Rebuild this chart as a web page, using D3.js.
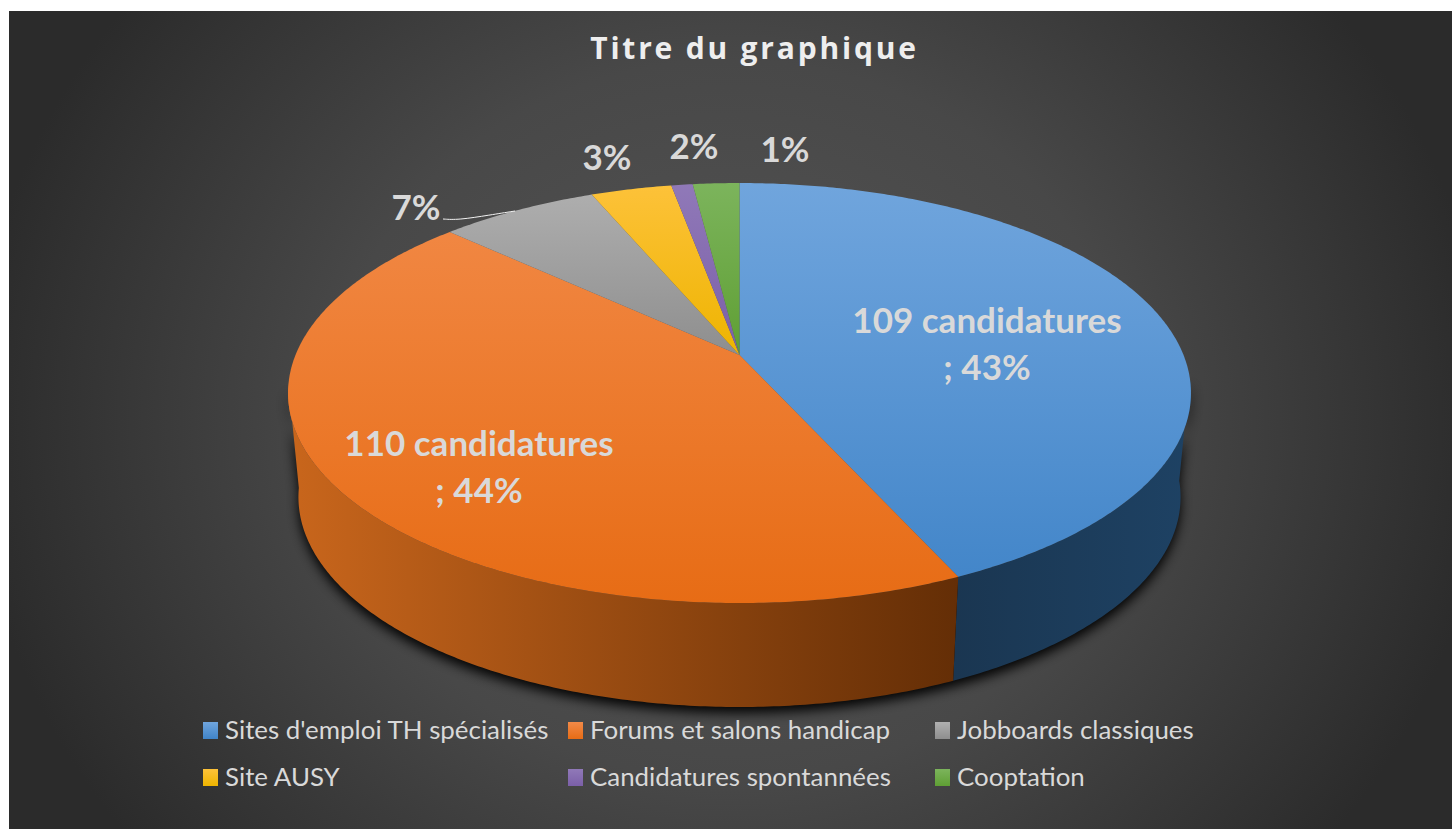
<!DOCTYPE html>
<html>
<head>
<meta charset="utf-8">
<script src="https://cdn.jsdelivr.net/npm/d3@7"></script>
<style>
  html, body { margin: 0; padding: 0; background: #fff; }
  svg { display: block; }
  text { font-family: Lato, "Open Sans", sans-serif; }
</style>
</head>
<body>
<svg id="chart" width="1452" height="829"></svg>
<script>
// Data
const categories = ["Sites d'emploi TH spécialisés", "Forums et salons handicap", "Jobboards classiques",
    "Site AUSY", "Candidatures spontannées", "Cooptation"];
const values = [109, 110, 17, 8.7, 2.3, 5];
const dataLabels = [["109 candidatures", "; 43%"], ["110 candidatures", "; 44%"], ["7%"], ["3%"], ["2%"], ["1%"]];
const titleText = "Titre du graphique";

// Colours: top of slice, bottom of slice, wall left, wall right
const TOP_LIGHT = ["#70a5dd", "#f28a48", "#b0b0b0", "#fdc23a", "#9079b8", "#7cb45c"];
const TOP_DARK = ["#4084c8", "#e76c15", "#8e8e8e", "#eeb400", "#7b5fa8", "#5f9f34"];
const WALL_LEFT = ["#1a3651", "#c9661c", "#555", "#8a6d00", "#4a3a66", "#3a6020"];
const WALL_RIGHT = ["#1e4264", "#642e06", "#555", "#8a6d00", "#4a3a66", "#3a6020"];

// Where the text goes
const LABEL_POS = [[987, 333], [479, 456], [416, 220], [607, 170], [694, 159], [785, 162]];
const LEGEND_X = [203, 568, 935];
const LEGEND_Y = [730, 777];

const WIDTH = 1452, HEIGHT = 829;
const DEPTH = 104;

const svg = d3.select("#chart");
const defs = svg.append("defs");

// Background
const bg = defs.append("radialGradient").attr("id", "bg")
    .attr("gradientUnits", "userSpaceOnUse")
    .attr("cx", 730).attr("cy", 420).attr("r", 800)
    .attr("gradientTransform", "translate(730 420) scale(1 0.9) translate(-730 -420)");
bg.append("stop").attr("offset", 0).attr("stop-color", "#555555");
bg.append("stop").attr("offset", 0.5).attr("stop-color", "#484848");
bg.append("stop").attr("offset", 0.95).attr("stop-color", "#2b2b2b");

svg.append("rect").attr("x", 9).attr("y", 11).attr("width", WIDTH - 9).attr("height", HEIGHT - 11)
    .attr("fill", "url(#bg)");

const blur = defs.append("filter").attr("id", "shadow")
    .attr("x", "-10%").attr("y", "-10%").attr("width", "120%").attr("height", "120%");
blur.append("feGaussianBlur").attr("stdDeviation", 6);

// Tilted disc: the pie's centre sits above the middle of the ellipse, so a plain ellipse won't do
const CX = 739.5, CY = 355;
const persp = 0.181, scaleX = 444, scaleY = 203.1;

function project(angle) {
    const u = Math.sin(angle), v = Math.cos(angle);
    const w = 1 + persp * v;
    return [CX + scaleX * u / w, CY - scaleY * v / w];
}
function projectBottom(angle) {
    const [x, y] = project(angle);
    return [CX + (x - CX) * 0.977, y + DEPTH];
}
function sampleAngles(a0, a1) {
    const n = Math.max(2, Math.ceil((a1 - a0) / 0.01));
    return d3.range(n + 1).map(i => a0 + (a1 - a0) * i / n);
}

const line = d3.line();
const pieGen = d3.pie().sort(null).value(d => d);
const arcs = pieGen(values);

// Visible part of the wall
const WALL_START = 96 * Math.PI / 180, WALL_END = 262 * Math.PI / 180;
const topEdge = sampleAngles(WALL_START, WALL_END);

// Shadow under the pie
svg.append("path")
    .attr("d", line(topEdge.map(a => projectBottom(a)).concat(topEdge.slice().reverse().map(a => project(a)))) + "Z")
    .attr("transform", "translate(0,6)")
    .attr("fill", "#000").attr("opacity", 0.95)
    .attr("filter", "url(#shadow)");

// Walls
arcs.forEach((d, i) => {
    const a0 = Math.max(d.startAngle, WALL_START), a1 = Math.min(d.endAngle, WALL_END);
    if (a1 <= a0) return;
    const angles = sampleAngles(a0, a1);
    const pts = angles.map(a => project(a)).concat(angles.slice().reverse().map(a => projectBottom(a)));
    const ext = d3.extent(pts, p => p[0]);
    const g = defs.append("linearGradient").attr("id", "wall" + i)
        .attr("gradientUnits", "userSpaceOnUse")
        .attr("x1", ext[0]).attr("x2", ext[1]).attr("y1", 0).attr("y2", 0);
    g.append("stop").attr("offset", 0).attr("stop-color", WALL_LEFT[i]);
    g.append("stop").attr("offset", 1).attr("stop-color", WALL_RIGHT[i]);
    svg.append("path").attr("d", line(pts) + "Z").attr("fill", `url(#wall${i})`);
});

// Top of the slices, one vertical gradient over the whole disc
arcs.forEach((d, i) => {
    const g = defs.append("linearGradient").attr("id", "top" + i)
        .attr("gradientUnits", "userSpaceOnUse")
        .attr("x1", 0).attr("x2", 0).attr("y1", 183).attr("y2", 603);
    g.append("stop").attr("offset", 0).attr("stop-color", TOP_LIGHT[i]);
    g.append("stop").attr("offset", 1).attr("stop-color", TOP_DARK[i]);
    const pts = [[CX, CY]].concat(sampleAngles(d.startAngle, d.endAngle).map(a => project(a)));
    svg.append("path").attr("d", line(pts) + "Z").attr("fill", `url(#top${i})`);
});

// Small slices get a gradient that ends at the apex, otherwise they stay too pale
[2, 3, 4, 5].forEach(i => {
    defs.select("#top" + i).attr("y2", CY);
});

// Leader line of the 7% label
svg.append("path")
    .attr("d", d3.line().curve(d3.curveBasis)([[443, 219], [458, 220], [490, 215], [515, 211]]))
    .attr("fill", "none").attr("stroke", "#f2f2f2").attr("stroke-width", 1);

// Data labels
dataLabels.forEach((lines, i) => {
    const t = svg.append("text")
        .attr("text-anchor", "middle")
        .attr("font-size", 35).attr("font-weight", 700)
        .attr("fill", "#d9d9d9");
    lines.forEach((l, k) => {
        t.append("tspan").attr("x", LABEL_POS[i][0]).attr("y", LABEL_POS[i][1] + k * 47).text(l);
    });
});

// Title
svg.append("text").attr("x", 754.5).attr("y", 59)
    .attr("text-anchor", "middle")
    .style("font-family", "'Open Sans'")
    .attr("font-size", 30).attr("font-weight", 700)
    .attr("letter-spacing", 2.8)
    .attr("fill", "#eeeeee")
    .text(titleText);

// Legend
categories.forEach((c, i) => {
    const x = LEGEND_X[i % 3], y = LEGEND_Y[Math.floor(i / 3)];
    const g = defs.append("linearGradient").attr("id", "leg" + i).attr("x1", 0).attr("x2", 0).attr("y1", 0).attr("y2", 1);
    g.append("stop").attr("offset", 0).attr("stop-color", TOP_LIGHT[i]);
    g.append("stop").attr("offset", 1).attr("stop-color", TOP_DARK[i]);
    svg.append("rect").attr("x", x).attr("y", y - 8).attr("width", 15).attr("height", 17)
        .attr("fill", `url(#leg${i})`);
    svg.append("text").attr("x", x + 22).attr("y", y + 9)
        .attr("font-size", 25.9).attr("fill", "#d9d9d9")
        .text(c);
});
</script>
</body>
</html>
